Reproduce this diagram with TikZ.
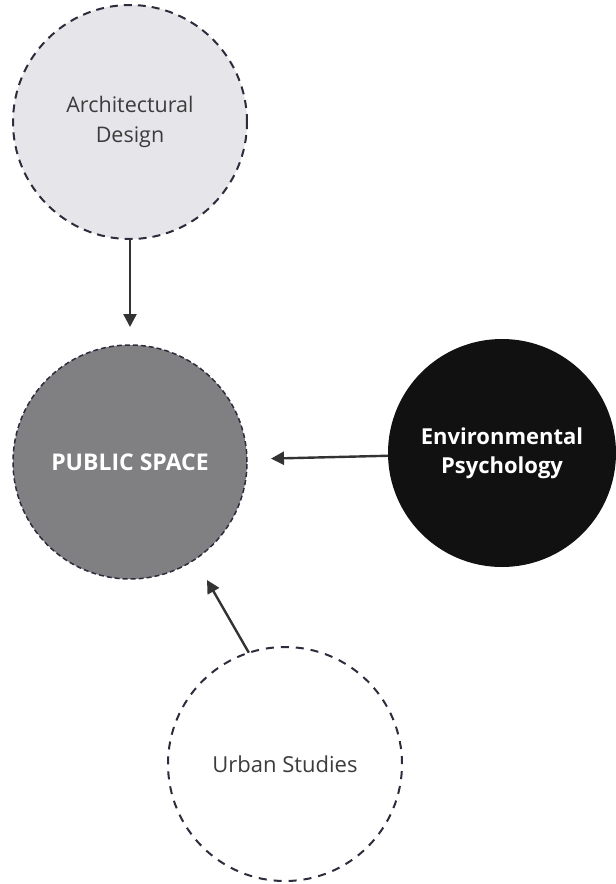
\documentclass[tikz,border=0pt]{standalone}
\usepackage{fontspec}
\setmainfont{Open Sans}
\usepackage{tikz}
\usetikzlibrary{positioning, graphs, arrows.meta}
\definecolor{dashnavy}{HTML}{2C2C3C}
\definecolor{archgray}{HTML}{E6E6EA}
\definecolor{publicgray}{HTML}{808083}
\definecolor{envblack}{HTML}{111111}
\definecolor{textgray}{HTML}{3C3C3C}
\definecolor{arrowgray}{HTML}{333333}

\begin{document}
\begin{tikzpicture}[node distance=10pt,
    >={Triangle[length=13pt,width=13pt]},
    field/.style={circle, minimum size=234pt, inner sep=0pt, outer sep=0pt, align=center, text=textgray, font=\fontsize{21.5}{30}\selectfont},
    dashed field/.style={field, draw=dashnavy, line width=2pt, dash pattern=on 8pt off 6pt},
    link/.style={line width=2.4pt, draw=arrowgray}]
    \useasboundingbox (0,0) rectangle (616pt,-884pt);

    \node[dashed field, fill=publicgray, line width=1.5pt, dash pattern=on 5pt off 3pt, text=white, font=\fontsize{23}{30}\selectfont\bfseries] (public space) at (130pt,-462pt) {PUBLIC SPACE};
    \node[dashed field, fill=archgray, above=106pt of public space] (architectural design) {Architectural\\Design};
    \node[field, fill=envblack, minimum size=228pt, text=white, font=\fontsize{22}{29}\selectfont\bfseries, right=141pt of public space, yshift=9pt] (environmental psychology) {Environmental\\Psychology};
    \node[dashed field, fill=white, dash pattern=on 8pt off 7pt, font=\fontsize{22}{30}\selectfont] (urban studies) at (285pt,-764pt) {Urban Studies};
    \coordinate (urban start) at (urban studies.108);
    \coordinate (urban tip) at (207pt,-580pt);

    \graph{(architectural design) ->[link, shorten >=18pt] (public space);
    (environmental psychology) ->[link, shorten >=24pt] (public space);
    (urban start) ->[link] (urban tip)};
\end{tikzpicture}
\end{document}
